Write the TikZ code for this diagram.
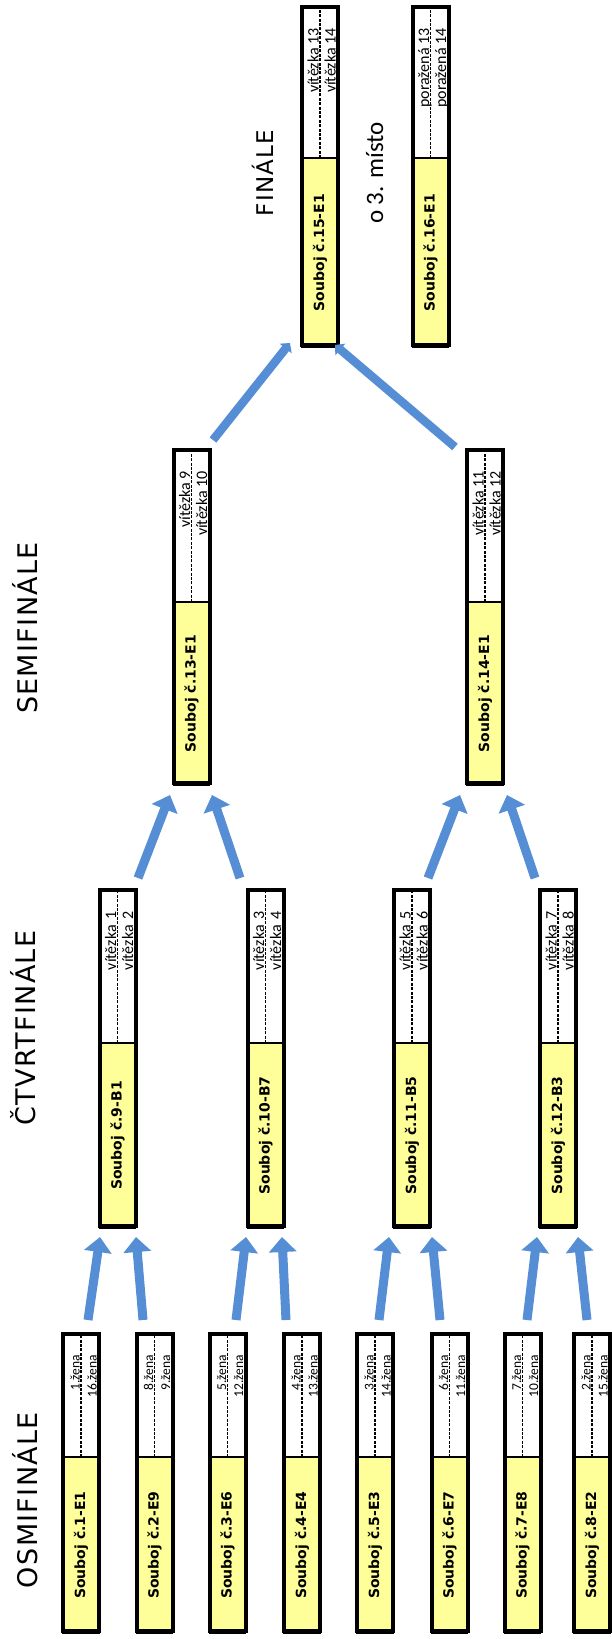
\documentclass[tikz,border=0pt]{standalone}
\usepackage{fontspec}
\usetikzlibrary{arrows.meta}
\newfontfamily\headfont[LetterSpace=5]{DejaVu Sans}
\newfontfamily\lblfont{DejaVu Sans}
\newfontfamily\smallfont{Carlito}
\newfontfamily\placefont{Carlito}
\definecolor{boxyellow}{RGB}{255,255,153}
\definecolor{arrowblue}{RGB}{85,142,213}
\tikzset{
  frame/.style={draw=black, line width=4pt, inner sep=0pt, outer sep=0pt},
  ypart/.style={fill=boxyellow, draw=black, line width=1.5pt, inner sep=0pt, outer sep=0pt},
  divline/.style={draw=black, line width=1.6pt, dash pattern=on 3pt off 1.4pt},
  lbl/.style={rotate=90, font=\lblfont\bfseries\fontsize{14}{16}\selectfont, inner sep=0pt},
  smalltext/.style={rotate=90, inner sep=0pt, anchor=base east},
  head/.style={rotate=90, inner sep=0pt, anchor=base},
  bigarrow/.style={draw=arrowblue, line width=9pt, -{Triangle[width=27pt,length=15pt]}},
  smallarrow/.style={draw=arrowblue, line width=8.5pt, -{Triangle[width=15pt,length=7pt]}}
}
% #1 name, #2 cx, #3 ytop, #4 ysplit, #5 ybot, #6 label, #7 first line, #8 second line, #9 font size
\newcommand{\duel}[9]{%
  \node[ypart, minimum width=36pt, minimum height={(#5-#4)*1pt}] (#1-y) at (#2,{(#4+#5)/2}) {};
  \draw[divline] (#2,#4) -- (#2,{#3+2});
  \node[lbl] (#1-l) at (#1-y.center) {Souboj č.#6};
  \node[smalltext, font={\smallfont\fontsize{#9}{#9}\selectfont}] (#1-a) at ({#2-1.5},{#3+23}) {#7};
  \node[smalltext, font={\smallfont\fontsize{#9}{#9}\selectfont}] (#1-b) at ({#2+15.5},{#3+23}) {#8};
  \node[frame, minimum width=36pt, minimum height={(#5-#3-4)*1pt}] (#1) at (#2,{(#3+#5)/2}) {};
}
\begin{document}
\begin{tikzpicture}[x=1pt,y=-1pt]
\fill[white] (0,0) rectangle (612,1639);
\useasboundingbox (0,0) rectangle (612,1639);

% headings
\node[head, font=\headfont\fontsize{27}{29}\selectfont] (h1) at (37,1500) {OSMIFINÁLE};
\node[head, font=\headfont\fontsize{27}{29}\selectfont] (h2) at (35,1028) {ČTVRTFINÁLE};
\node[head, font=\headfont\fontsize{27}{29}\selectfont] (h3) at (37,628) {SEMIFINÁLE};
\node[head, font=\headfont\fontsize{23}{25}\selectfont] (h4) at (273,173) {FINÁLE};
\node[head, font=\placefont\fontsize{25}{27}\selectfont] (h5) at (383,173) {o 3. místo};

% osmifinále
\duel{b1}{81}{1332}{1457}{1633}{1-E1}{1.žena}{16.žena}{13.5}
\duel{b2}{154.5}{1332}{1457}{1633}{2-E9}{8.žena}{9.žena}{13.5}
\duel{b3}{227.5}{1332}{1457}{1633}{3-E6}{5.žena}{12.žena}{13.5}
\duel{b4}{302}{1332}{1457}{1633}{4-E4}{4.žena}{13.žena}{13.5}
\duel{b5}{375}{1332}{1457}{1633}{5-E3}{3.žena}{14.žena}{13.5}
\duel{b6}{449.5}{1332}{1457}{1633}{6-E7}{6.žena}{11.žena}{13.5}
\duel{b7}{522.5}{1332}{1457}{1633}{7-E8}{7.žena}{10.žena}{13.5}
\duel{b8}{592}{1332}{1457}{1633}{8-E2}{2.žena}{15.žena}{13.5}

% čtvrtfinále
\duel{b9}{117.5}{888}{1043}{1228}{9-B1}{vítězka\hspace{6pt}1}{vítězka\hspace{6pt}2}{16}
\duel{b10}{265.5}{888}{1043}{1228}{10-B7}{vítězka\hspace{6pt}3}{vítězka\hspace{6pt}4}{16}
\duel{b11}{412}{888}{1043}{1228}{11-B5}{vítězka\hspace{6pt}5}{vítězka\hspace{6pt}6}{16}
\duel{b12}{558}{888}{1043}{1228}{12-B3}{vítězka\hspace{6pt}7}{vítězka\hspace{6pt}8}{16}

% semifinále
\duel{b13}{191.5}{448}{602}{785}{13-E1}{vítězka 9}{vítězka 10}{16}
\duel{b14}{485}{448}{602}{785}{14-E1}{vítězka 11}{vítězka 12}{16}

% finále
\duel{b15}{320}{5}{158}{347}{15-E1}{vítězka 13}{vítězka 14}{16}
\duel{b16}{430.5}{5}{158}{347}{16-E1}{poražená 13}{poražená 14}{16}

% arrows osmifinále -> čtvrtfinále
\draw[bigarrow] ([xshift=7pt,yshift=14pt]b1.north) -- ([xshift=-17.5pt,yshift=-11pt]b9.south);
\draw[bigarrow] ([xshift=-11.5pt,yshift=14pt]b2.north) -- ([xshift=18.5pt,yshift=-11pt]b9.south);
\draw[bigarrow] ([xshift=8.5pt,yshift=14pt]b3.north) -- ([xshift=-19.5pt,yshift=-11pt]b10.south);
\draw[bigarrow] ([xshift=-16pt,yshift=14pt]b4.north) -- ([xshift=16.5pt,yshift=-11pt]b10.south);
\draw[bigarrow] ([xshift=4pt,yshift=14pt]b5.north) -- ([xshift=-23pt,yshift=-11pt]b11.south);
\draw[bigarrow] ([xshift=-9.5pt,yshift=14pt]b6.north) -- ([xshift=20pt,yshift=-11pt]b11.south);
\draw[bigarrow] ([xshift=4.5pt,yshift=14pt]b7.north) -- ([xshift=-21pt,yshift=-11pt]b12.south);
\draw[bigarrow] ([xshift=-5pt,yshift=14pt]b8.north) -- ([xshift=20pt,yshift=-11pt]b12.south);

% arrows čtvrtfinále -> semifinále
\draw[bigarrow] ([xshift=20.5pt,yshift=12pt]b9.north) -- ([xshift=-21.5pt,yshift=-12pt]b13.south);
\draw[bigarrow] ([xshift=-25.5pt,yshift=12pt]b10.north) -- ([xshift=20.5pt,yshift=-12pt]b13.south);
\draw[bigarrow] ([xshift=16pt,yshift=12pt]b11.north) -- ([xshift=-25pt,yshift=-12pt]b14.south);
\draw[bigarrow] ([xshift=-23pt,yshift=12pt]b12.north) -- ([xshift=22pt,yshift=-12pt]b14.south);

% arrows semifinále -> finále
\draw[smallarrow] ([xshift=21.5pt,yshift=10pt]b13.north) -- ([xshift=-30pt,yshift=2pt]b15.south);
\draw[smallarrow] ([xshift=-30pt,yshift=3pt]b14.north) -- ([xshift=15pt,yshift=0pt]b15.south);
\end{tikzpicture}
\end{document}
